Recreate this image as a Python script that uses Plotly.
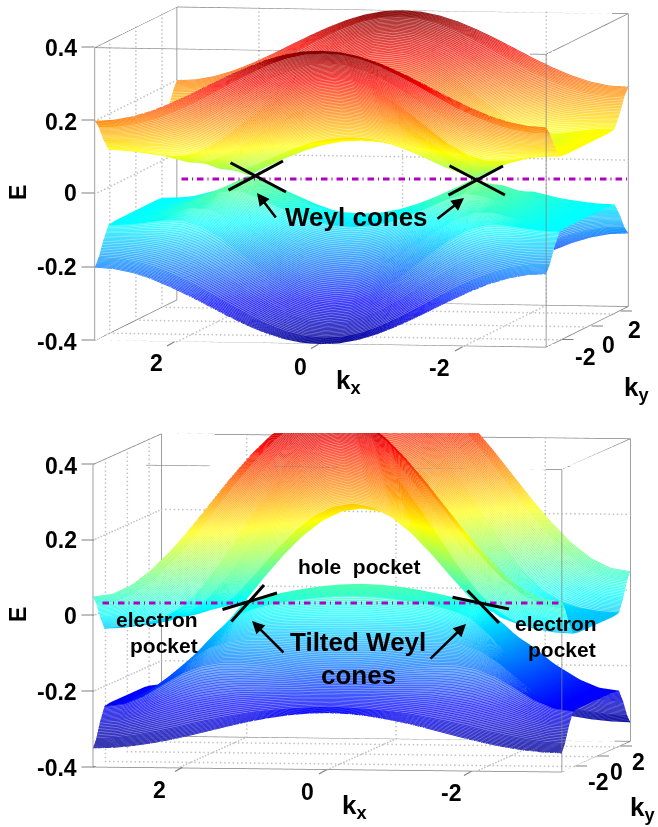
import plotly.graph_objects as go

# half-grids (kx from 0 to pi in 15 degree steps; ky rows from 0 to pi), symmetric in kx and ky
kx_half = [0, 0.262, 0.524, 0.785, 1.047, 1.309, 1.571, 1.833, 2.094, 2.356, 2.618, 2.880, 3.142]
ky_half = [0, 0.8, 1.6, 2.1, 2.5, 2.85, 3.142]

upper_a = [
    [.100,.097,.087,.071,.050,.026,.000,.026,.050,.071,.087,.097,.100],
    [.122,.118,.108,.090,.068,.045,.027,.032,.051,.071,.087,.097,.100],
    [.235,.230,.213,.186,.153,.118,.086,.065,.062,.074,.088,.097,.100],
    [.307,.301,.282,.251,.214,.174,.135,.105,.089,.088,.095,.101,.103],
    [.355,.350,.334,.311,.281,.247,.215,.185,.163,.148,.141,.139,.138],
    [.388,.385,.373,.354,.329,.302,.273,.245,.222,.202,.188,.180,.178],
    [.400,.397,.387,.371,.350,.326,.300,.274,.250,.229,.213,.203,.200],
]
lower_a = [
    [-.100,-.097,-.087,-.071,-.050,-.026,-.000,-.026,-.050,-.071,-.087,-.097,-.100],
    [-.122,-.118,-.108,-.090,-.068,-.045,-.027,-.032,-.051,-.071,-.087,-.097,-.100],
    [-.235,-.230,-.213,-.186,-.153,-.118,-.086,-.065,-.062,-.074,-.088,-.097,-.100],
    [-.307,-.301,-.282,-.251,-.214,-.174,-.135,-.105,-.089,-.088,-.095,-.101,-.103],
    [-.355,-.350,-.334,-.311,-.281,-.247,-.215,-.185,-.163,-.148,-.141,-.139,-.138],
    [-.388,-.385,-.373,-.354,-.329,-.302,-.273,-.245,-.222,-.202,-.188,-.180,-.178],
    [-.400,-.397,-.387,-.371,-.350,-.326,-.300,-.274,-.250,-.229,-.213,-.203,-.200],
]
upper_b = [
    [.250,.242,.217,.177,.125,.065,.000,-.013,-.025,-.035,-.043,-.048,-.050],
    [.272,.263,.238,.196,.143,.084,.027,-.007,-.024,-.035,-.043,-.048,-.050],
    [.385,.375,.343,.292,.228,.157,.086,.026,-.013,-.032,-.042,-.048,-.050],
    [.457,.446,.412,.357,.289,.213,.135,.066,.014,-.018,-.035,-.044,-.047],
    [.505,.495,.464,.417,.356,.286,.215,.146,.088,.042,.011,-.006,-.012],
    [.538,.530,.503,.460,.404,.341,.273,.206,.147,.096,.058,.035,.028],
    [.550,.542,.517,.477,.425,.365,.300,.235,.175,.123,.083,.058,.050],
]
lower_b = [
    [.050,.048,.043,.035,.025,.013,.000,-.065,-.125,-.177,-.217,-.242,-.250],
    [.028,.027,.022,.016,.007,-.006,-.027,-.071,-.126,-.177,-.217,-.242,-.250],
    [-.085,-.085,-.083,-.080,-.078,-.079,-.086,-.104,-.137,-.180,-.218,-.242,-.250],
    [-.157,-.156,-.152,-.145,-.139,-.135,-.135,-.144,-.164,-.194,-.225,-.246,-.253],
    [-.205,-.205,-.204,-.205,-.206,-.208,-.215,-.224,-.238,-.254,-.271,-.284,-.288],
    [-.238,-.240,-.243,-.248,-.254,-.263,-.273,-.284,-.297,-.308,-.318,-.325,-.328],
    [-.250,-.252,-.257,-.265,-.275,-.287,-.300,-.313,-.325,-.335,-.343,-.348,-.350],
]
e_ticks = [-0.4, -0.2, 0, 0.2, 0.4]
e_labels = ["-0.4", "-0.2", "0", "0.2", "0.4"]
k_ticks = [-2, 0, 2]
k_labels = ["-2", "0", "2"]

W, H = 658, 827
FONT = "Liberation Sans"
JET = [[0, "#00008f"], [.125, "#0000ff"], [.375, "#00ffff"], [.625, "#ffff00"], [.875, "#ff0000"], [1, "#800000"]]
PALE = [[0, "#6a6ac0"], [.125, "#7a7aff"], [.375, "#88ffff"], [.625, "#ffff90"], [.875, "#ff8a80"], [1, "#b87070"]]
GREY = "#808080"


def full_axis(half):
    return [-v for v in half[:0:-1]] + list(half)


def full_grid(rows):
    mirrored = [r[:0:-1] + r for r in rows]
    return mirrored[:0:-1] + mirrored


kx = full_axis(kx_half)
ky = full_axis(ky_half)
PI = 3.1416


def band(z, scene, cmin, cmax):
    grid = full_grid(z)
    lit = dict(ambient=1, diffuse=0, specular=0, roughness=1, fresnel=0)
    base = dict(x=kx, y=ky, z=grid, cmin=cmin, cmax=cmax, showscale=False, scene=scene, hoverinfo="skip", lighting=lit)
    off = dict(x=dict(highlight=False), y=dict(highlight=False), z=dict(highlight=False))
    return [
        go.Surface(**base, colorscale=PALE, contours=off),
        go.Surface(**base, colorscale=JET, hidesurface=True,
                   contours=dict(x=dict(highlight=False), z=dict(highlight=False),
                                 y=dict(show=True, start=-PI, end=PI, size=0.032, usecolormap=True, width=1, highlight=False))),
    ]


def dotted(p0, p1, n):
    """Sample points along one grid line, drawn as fine dots."""
    return [[p0[d] + (p1[d] - p0[d]) * i / n for i in range(n + 1)] for d in range(3)]


def frame(scene):
    bx, by, bz = [], [], []
    for a, b in [(-PI, -PI), (PI, -PI), (PI, PI), (-PI, PI)]:
        bx += [a, a, None]; by += [b, b, None]; bz += [-.4, .4, None]
    for z in (-.4, .4):
        bx += [-PI, PI, PI, -PI, -PI, None]; by += [-PI, -PI, PI, PI, -PI, None]; bz += [z, z, z, z, z, None]
    gx, gy, gz = [], [], []
    lines = []
    for z in e_ticks[1:-1]:
        lines += [((PI, -PI, z), (PI, PI, z), 25), ((PI, PI, z), (-PI, PI, z), 110)]
    for k in k_ticks:
        lines += [((k, -PI, -.4), (k, PI, -.4), 25), ((k, PI, -.4), (k, PI, .4), 75),
                  ((-PI, k, -.4), (PI, k, -.4), 110), ((PI, k, -.4), (PI, k, .4), 75)]
    for a, b, n in lines:
        xs, ys, zs = dotted(a, b, n)
        gx += xs; gy += ys; gz += zs
    return [
        go.Scatter3d(x=gx, y=gy, z=gz, mode="markers", marker=dict(color="#c4c4c4", size=1, line=dict(width=0)),
                     scene=scene, hoverinfo="skip", showlegend=False),
        go.Scatter3d(x=bx, y=by, z=bz, mode="lines", line=dict(color=GREY, width=1.5),
                     scene=scene, hoverinfo="skip", showlegend=False),
    ]


fig = go.Figure()
for tr in frame("scene") + band(upper_a, "scene", -.4, .4) + band(lower_a, "scene", -.4, .4):
    fig.add_trace(tr)
for tr in frame("scene2") + band(upper_b, "scene2", -.35, .55) + band(lower_b, "scene2", -.35, .55):
    fig.add_trace(tr)


def px(x):
    return x / W


def py(y):
    return 1 - y / H


def axes(zrange, aspect, cam_center, cam_dir, dist, top, bottom):
    def ax(vals, rng):
        return dict(range=rng, tickmode="array", tickvals=vals, showticklabels=False,
                    showgrid=False, zeroline=False, showbackground=False, showline=False,
                    showspikes=False, ticks="", title=dict(text=""))
    return dict(
        domain=dict(x=[0, 1], y=[py(bottom), py(top)]),
        xaxis=ax(k_ticks, [PI, -PI]),
        yaxis=ax(k_ticks, [-PI, PI]),
        zaxis=ax(e_ticks, zrange),
        aspectmode="manual", aspectratio=dict(x=aspect[0], y=aspect[1], z=aspect[2]),
        camera=dict(projection=dict(type="orthographic"),
                    center=dict(x=cam_center[0], y=cam_center[1], z=cam_center[2]),
                    up=dict(x=0, y=0, z=1),
                    eye=dict(x=cam_center[0] + cam_dir[0] * dist, y=cam_center[1] + cam_dir[1] * dist,
                             z=cam_center[2] + cam_dir[2] * dist)),
    )


anns = []


def text(t, x, y, size, angle=0):
    anns.append(dict(text="<b>" + t + "</b>", xref="paper", yref="paper", x=px(x), y=py(y), showarrow=False,
                     font=dict(family=FONT, size=size, color="black"), xanchor="center", yanchor="middle",
                     textangle=angle))


def seg(x0, y0, x1, y1, color="black", width=3, head=0):
    anns.append(dict(text="", xref="paper", yref="paper", axref="pixel", ayref="pixel", x=px(x1), y=py(y1),
                     ax=x0 - x1, ay=y0 - y1, showarrow=True, arrowhead=head, arrowsize=1, arrowwidth=width,
                     arrowcolor=color, standoff=0, startstandoff=0))


def dashdot(x0, x1, y):
    x = x0
    while x < x1:
        seg(x, y, min(x + 8, x1), y, "#b000c0", 3)
        seg(min(x + 10.5, x1), y, min(x + 13, x1), y, "#b000c0", 3)
        x += 15.5


dashdot(180, 630, 179)
dashdot(101, 561, 603)
for s in [(229, 162, 286, 192), (227, 191, 283, 161), (448, 165, 505, 195), (447, 196, 503, 166),
          (221, 610, 277, 593), (230, 623, 264, 585), (451, 597, 509, 609), (466, 589, 499, 623)]:
    seg(*s)
for s in [(277, 219, 257, 193), (436, 220, 464, 198), (285, 654, 252, 621), (429, 660, 466, 624)]:
    seg(*s, width=2.5, head=2)

# axis tick marks
for y in [340, 267, 193, 120, 47, 767, 691, 615, 540, 464]:
    seg(80, y, 94.4, y, GREY, 1.2)
for x, y in [(176, 341), (320, 343.5), (464, 346)]:
    seg(x, y, x - 9, y + 5, GREY, 1.2)
for x, y in [(560.5, 339.5), (590, 326), (619, 311)]:
    seg(x, y, x + 13, y, GREY, 1.2)
for x, y in [(184, 766.5), (328, 769), (473, 770.5)]:
    seg(x, y, x - 9, y + 5, GREY, 1.2)
for x, y in [(574, 766), (596, 756), (619, 746)]:
    seg(x, y, x + 13, y, GREY, 1.2)

text("Weyl cones", 357, 217, 26)
text("hole\u00a0 pocket", 359, 566, 21)
text("electron", 157, 619, 21)
text("pocket", 164, 645, 21)
text("electron", 556, 623, 21)
text("pocket", 562, 649, 21)
text("Tilted Weyl", 358, 642, 26)
text("cones", 358, 675, 26)
text("E", 18, 193, 23, -90)
text("E", 18, 615, 23, -90)
text("k<sub>x</sub>", 348, 381, 26)
text("k<sub>x</sub>", 354, 806, 26)
text("k<sub>y</sub>", 636, 389, 26)
text("k<sub>y</sub>", 642, 808, 26)

# tick labels
for lab, y in zip(e_labels, [342, 267, 193, 122, 48]):
    anns.append(dict(text="<b>" + lab + "</b>", xref="paper", yref="paper", x=px(79), y=py(y), showarrow=False,
                     font=dict(family=FONT, size=23, color="black"), xanchor="right", yanchor="middle"))
for lab, y in zip(e_labels, [768, 692, 616, 540, 466]):
    anns.append(dict(text="<b>" + lab + "</b>", xref="paper", yref="paper", x=px(79), y=py(y), showarrow=False,
                     font=dict(family=FONT, size=23, color="black"), xanchor="right", yanchor="middle"))
for lab, x, y in zip(k_labels, [439, 300, 156], [368, 367, 363]):
    text(lab, x, y, 23)
for lab, x, y in zip(k_labels, [585, 608, 634], [357, 345, 330]):
    text(lab, x, y, 23)
for lab, x, y in zip(k_labels, [451, 307, 159], [793, 792, 790]):
    text(lab, x, y, 23)
for lab, x, y in zip(k_labels, [598, 616, 638], [782, 772, 762]):
    text(lab, x, y, 23)

fig.update_layout(
    width=W, height=H, margin=dict(l=0, r=0, t=0, b=0), paper_bgcolor="white", showlegend=False,
    annotations=anns,
    scene=axes([-.4, .4], (2.234, 2.359, 1.434), (-.161, 0, -.139), (.169, -.981, .0853), 5, 0, 410),
    scene2=axes([-.4, .55], (2.408, 2.281, 1.828), (-.168, 0, -.284), (.1517, -.983, .0691), 5, 433, 827),
)
fig.write_html("out.html", config=dict(displayModeBar=False),
               post_script="document.body.style.margin='0';document.body.style.overflow='hidden';")
